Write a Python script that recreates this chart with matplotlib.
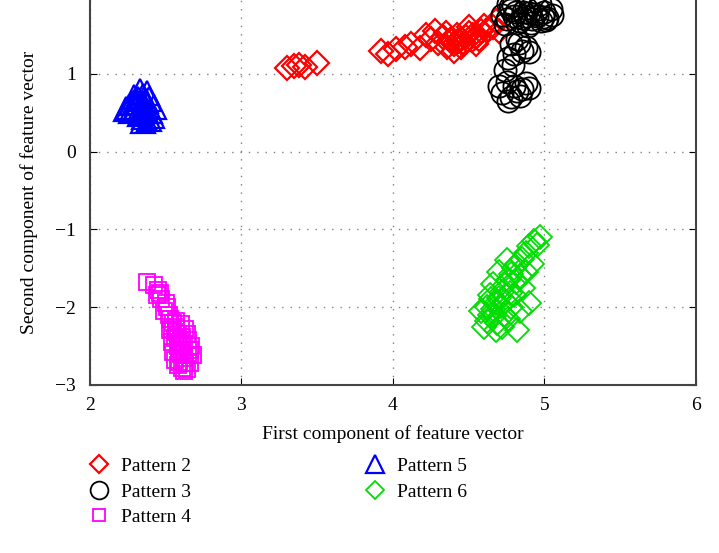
import matplotlib.pyplot as plt

plt.rcParams['font.family'] = ['Liberation Serif', 'DejaVu Serif']

# Pattern 2 (red diamonds)
p2_x = [3.30, 3.35, 3.38, 3.42, 3.50, 3.92, 3.97, 4.02, 4.08, 4.12, 4.18, 4.22,
        4.25, 4.28, 4.30, 4.33, 4.36, 4.38, 4.40, 4.42, 4.45, 4.47, 4.50, 4.52,
        4.55, 4.58, 4.60, 4.63, 4.66, 4.70, 4.40, 4.45, 4.50, 4.35, 4.55, 4.68,
        4.43, 4.48, 4.38, 4.53, 4.46, 4.57]
p2_y = [1.08, 1.10, 1.12, 1.09, 1.14, 1.30, 1.26, 1.32, 1.35, 1.38, 1.33, 1.50,
        1.45, 1.55, 1.40, 1.48, 1.35, 1.42, 1.38, 1.50, 1.45, 1.40, 1.52, 1.43,
        1.48, 1.55, 1.62, 1.58, 1.60, 1.55, 1.30, 1.35, 1.60, 1.52, 1.38, 1.68,
        1.42, 1.47, 1.45, 1.50, 1.39, 1.45]

# Pattern 3 (black circles)
p3_x = [4.75, 4.80, 4.85, 4.90, 4.95, 5.00, 5.05, 4.78, 4.88, 4.98, 4.82, 4.92,
        5.02, 4.72, 4.86, 4.96, 4.74, 4.84, 4.94, 5.04, 4.79, 4.89, 4.99, 4.77,
        4.87, 4.97, 4.81, 4.91, 5.01, 4.76,
        4.82, 4.78, 4.85, 4.80, 4.88, 4.76, 4.83, 4.90, 4.79, 4.74,
        4.75, 4.80, 4.85, 4.72, 4.78, 4.82, 4.88, 4.90, 4.70, 4.84, 4.76]
p3_y = [1.70, 1.75, 1.72, 1.78, 1.74, 1.80, 1.76, 1.82, 1.85, 1.68, 1.66, 1.70,
        1.72, 1.76, 1.79, 1.83, 1.64, 1.68, 1.77, 1.84, 1.88, 1.62, 1.73, 1.86,
        1.74, 1.90, 1.79, 1.66, 1.69, 1.90,
        1.45, 1.38, 1.30, 1.25, 1.35, 1.20, 1.40, 1.28, 1.12, 1.05,
        0.90, 0.85, 0.80, 0.75, 0.70, 0.78, 0.88, 0.82, 0.85, 0.72, 0.65]

# Pattern 4 (magenta squares)
p4_x = [2.38, 2.42, 2.45, 2.44, 2.47, 2.50, 2.49, 2.52, 2.53, 2.55, 2.54, 2.57,
        2.56, 2.59, 2.58, 2.61, 2.60, 2.62, 2.63, 2.61, 2.64, 2.66, 2.65, 2.58,
        2.60, 2.46, 2.51, 2.57, 2.62, 2.55, 2.67, 2.68, 2.64, 2.59, 2.56, 2.63,
        2.57, 2.60, 2.66, 2.53, 2.62, 2.58, 2.54, 2.61, 2.65, 2.59]
p4_y = [-1.68, -1.72, -1.78, -1.85, -1.90, -1.95, -2.05, -2.10, -2.15, -2.20,
        -2.28, -2.32, -2.40, -2.45, -2.50, -2.55, -2.60, -2.65, -2.72, -2.78,
        -2.80, -2.55, -2.62, -2.35, -2.42, -1.82, -2.00, -2.25, -2.48, -2.58,
        -2.50, -2.62, -2.35, -2.70, -2.68, -2.28, -2.18, -2.22, -2.72, -2.30,
        -2.82, -2.75, -2.45, -2.38, -2.42, -2.58]

# Pattern 5 (blue triangles)
p5_x = [2.28, 2.32, 2.35, 2.30, 2.34, 2.38, 2.36, 2.40, 2.33, 2.37, 2.26, 2.31,
        2.39, 2.35, 2.29, 2.42, 2.36, 2.33, 2.38, 2.24, 2.27, 2.31, 2.35, 2.39,
        2.30, 2.34, 2.37, 2.41]
p5_y = [0.62, 0.68, 0.72, 0.55, 0.50, 0.60, 0.45, 0.52, 0.78, 0.65, 0.58, 0.62,
        0.42, 0.40, 0.70, 0.58, 0.55, 0.48, 0.75, 0.55, 0.52, 0.58, 0.63, 0.68,
        0.64, 0.57, 0.52, 0.46]

# Pattern 6 (green diamonds)
p6_x = [4.97, 4.93, 4.90, 4.88, 4.85, 4.82, 4.80, 4.78, 4.76, 4.74, 4.72, 4.70,
        4.68, 4.66, 4.64, 4.62, 4.60, 4.84, 4.86, 4.80, 4.78, 4.76, 4.82, 4.90,
        4.92, 4.70, 4.66, 4.64, 4.75, 4.88, 4.72, 4.68, 4.58, 4.95, 4.73, 4.84,
        4.67, 4.71, 4.62, 4.77, 4.69, 4.74, 4.81, 4.65]
p6_y = [-1.10, -1.15, -1.22, -1.30, -1.38, -1.45, -1.50, -1.58, -1.65, -1.72,
        -1.80, -1.88, -1.95, -2.02, -2.10, -2.18, -2.25, -1.60, -1.75, -1.85,
        -2.00, -2.15, -2.30, -1.95, -1.45, -1.55, -1.70, -1.85, -1.40, -1.55,
        -2.25, -2.30, -2.05, -1.20, -2.10, -2.05, -2.12, -1.98, -2.00, -1.82,
        -2.20, -1.92, -1.68, -1.90]

fig = plt.figure(figsize=(7.19, 5.53), dpi=100)
ax = fig.add_axes([0.125, 0.304, 0.843, 0.696])

ax.plot(p2_x, p2_y, 'D', mfc='none', mec='red', ms=12, mew=1.6, label='Pattern 2')
ax.plot(p3_x, p3_y, 'o', mfc='none', mec='black', ms=16, mew=1.3, label='Pattern 3')
ax.plot(p4_x, p4_y, 's', mfc='none', mec='magenta', ms=11, mew=1.3, label='Pattern 4')
ax.plot(p5_x, p5_y, '^', mfc='none', mec='blue', ms=17, mew=1.6, label='Pattern 5')
ax.plot(p6_x, p6_y, 'D', mfc='none', mec='#00dd00', ms=12, mew=1.3, label='Pattern 6')

ax.set_xlim(2, 6)
ax.set_ylim(-3, 1.95)
ax.set_xticks([2, 3, 4, 5, 6])
ax.set_yticks([-3, -2, -1, 0, 1])
ax.set_yticklabels(['\u22123', '\u22122', '\u22121', '0', '1'])
ax.tick_params(direction='in', right=True, labelsize=14, length=5)
ax.tick_params(axis='x', pad=9)
ax.tick_params(axis='y', pad=10)
ax.grid(True, linestyle=(0, (1, 5)), color='gray', linewidth=1)
ax.spines['top'].set_visible(False)
for s in ['left', 'bottom', 'right']:
    ax.spines[s].set_color('#444444')
    ax.spines[s].set_linewidth(1.5)

ax.set_xlabel('First component of feature vector', fontsize=14, labelpad=8)
ax.set_ylabel('Second component of feature vector', fontsize=14, labelpad=12)

fig.legend(loc='upper left', bbox_to_anchor=(0.1, 0.205), ncol=2, frameon=False,
           fontsize=14, columnspacing=9.0, handletextpad=0.6, labelspacing=0.42,
           markerscale=0.8, handlelength=1.0)

fig.savefig('out.png', dpi=100)
